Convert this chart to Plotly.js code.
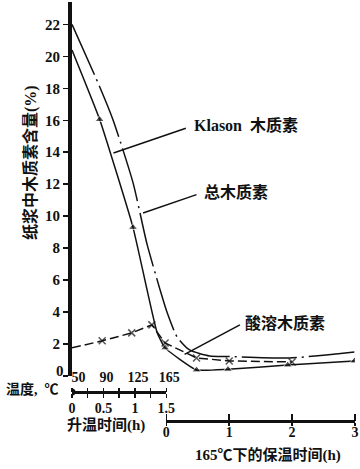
<!DOCTYPE html>
<html>
<head>
<meta charset="utf-8">
<script src="https://cdn.plot.ly/plotly-3.0.1.min.js"></script>
<style>html,body{margin:0;padding:0;background:#fff}#chart{width:360px;height:469px}</style>
</head>
<body>
<div id="chart"></div>
<script>
// ---- data (x = total elapsed time in h: heating 0-1.5, then 1.5 + hold time) ----
const yTicks = [0,2,4,6,8,10,12,14,16,18,20,22];
const heatTickVals = [0,0.25,0.5,0.75,1,1.25,1.5];
const heatTickText = ['0','','0.5','','1','','1.5'];
const tempTickText = ['\u200250','','90','','125','','165'];
const holdTickVals = [0,1,2,3];
const holdTickText = ['0','1','2','3'];

const klasonT = [0,0.44,0.97,1.35,1.48,1.98,2.48,3.43,4.49];
const klasonV = [20.4,16.05,9.3,2.76,1.76,0.38,0.42,0.69,0.94];
const klasonMarked = [false,true,true,false,true,true,true,true,true];

const totalT = [0,0.44,0.65,0.97,1.19,1.40,1.51,1.67,1.87,2.19,2.48,3.46,4.49];
const totalV = [22.0,18.1,16.05,12.1,8.3,5.4,4.0,2.45,1.63,1.25,1.22,1.13,1.5];

const acidT = [0,0.48,0.95,1.27,1.48,1.98,2.5,3.5];
const acidV = [1.76,2.2,2.7,3.2,2.07,1.13,0.94,0.88];
const acidMarked = [false,true,true,true,true,true,true,true];

const labelKlason = '<span style="font-size:16px">Klason</span>\u00a0\u00a0木质素';
const labelTotal = '总木质素';
const labelAcid = '酸溶木质素';
const yTitle = '纸浆中木质素含量(%)';
const tempTitle = '温度,\u00a0\u00a0℃';
const heatTitle = '升温时间(h)';
const holdTitle = '165℃下的保温时间(h)';

// ---- layout geometry ----
const W = 360, H = 469;
const M = {l:72, r:5, t:2, b:47};
const plotH = H - M.t - M.b;           // 420
const yBottomPx = 376;                  // pixel row of y = 0
const heatAxisPx = 392;                 // pixel row of heating axis
const holdAxisPx = 421;                 // pixel row of hold axis
const py = px => (H - M.b - px) / plotH;
const pxX = px => (px - M.l) / (W - M.l - M.r);
const yDomLo = py(yBottomPx);
const heatPos = py(heatAxisPx);
const holdPos = py(holdAxisPx);
const splitFrac = 1.5 / 4.5;

const numFont = {family:'"Liberation Serif", "Noto Sans CJK SC"', size:14, color:'#111', weight:'bold'};
const yNumFont = {family:'"Liberation Serif", "Noto Sans CJK SC"', size:15, color:'#111', weight:'bold'};
const cjkFont = {family:'"Liberation Serif", "Noto Sans CJK SC"', size:16, color:'#111', weight:'bold'};
const axFont = {family:'"Liberation Serif", "Noto Sans CJK SC"', size:15, color:'#111', weight:'bold'};

const traces = [
  { x: totalT, y: totalV, xaxis:'x', yaxis:'y', mode:'lines',
    line:{color:'#111', width:1.5, dash:'55px,5px,2px,5px', shape:'spline', smoothing:0.6},
    hoverinfo:'skip', showlegend:false },
  { x: klasonT, y: klasonV, xaxis:'x', yaxis:'y', mode:'lines+markers',
    line:{color:'#111', width:1.5, shape:'spline', smoothing:0.4},
    marker:{symbol:'triangle-up', color:'#111', size:klasonMarked.map(m => m ? 8 : 0)},
    hoverinfo:'skip', showlegend:false },
  { x: acidT, y: acidV, xaxis:'x', yaxis:'y', mode:'lines+markers',
    line:{color:'#111', width:1.5, dash:'9px,4px'},
    marker:{symbol:'x-thin', color:'#111', size:acidMarked.map(m => m ? 7 : 0), line:{color:'#111', width:1.5}},
    hoverinfo:'skip', showlegend:false },
  // carriers so the auxiliary time axes are drawn
  { x: [0,1.5], y: [null,null], xaxis:'x2', yaxis:'y', mode:'lines', hoverinfo:'skip', showlegend:false },
  { x: [0,1.5], y: [null,null], xaxis:'x3', yaxis:'y', mode:'lines', hoverinfo:'skip', showlegend:false },
  { x: [0,3], y: [null,null], xaxis:'x4', yaxis:'y', mode:'lines', hoverinfo:'skip', showlegend:false },
  { x: [0,3], y: [null,null], xaxis:'x5', yaxis:'y', mode:'lines', hoverinfo:'skip', showlegend:false }
];

const hidden = {showline:false, showticklabels:false, ticks:'', showgrid:false, zeroline:false, fixedrange:true};

const layout = {
  width: W, height: H,
  margin: M,
  paper_bgcolor:'#fff', plot_bgcolor:'rgba(0,0,0,0)',
  showlegend:false,
  xaxis: Object.assign({domain:[0,1], range:[0,4.5], anchor:'y'}, hidden),
  yaxis: { domain:[yDomLo,1], range:[0,23.4], anchor:'x',
    showline:true, linewidth:4, linecolor:'#111',
    ticks:'outside', ticklen:5, tickwidth:1.5, tickcolor:'#111',
    tickvals:yTicks, ticktext:yTicks.map(v => v === 0 ? '' : String(v)),
    tickfont:yNumFont, showgrid:false, zeroline:false, fixedrange:true },
  xaxis2: { domain:[0,splitFrac], range:[0,1.5], anchor:'free', position:heatPos, side:'bottom',
    showline:true, linewidth:3, linecolor:'#111',
    ticks:'outside', ticklen:4, tickwidth:1.5, tickcolor:'#111',
    tickvals:heatTickVals, ticktext:heatTickText, tickfont:numFont, ticklabelstandoff:-2,
    showgrid:false, zeroline:false, fixedrange:true },
  xaxis3: { domain:[0,splitFrac], range:[0,1.5], anchor:'free', position:heatPos, side:'top',
    showline:false, ticks:'outside', ticklen:4, tickwidth:1.5, tickcolor:'#111',
    tickvals:heatTickVals, ticktext:tempTickText, tickfont:numFont, ticklabelshift:3,
    showgrid:false, zeroline:false, fixedrange:true },
  xaxis4: { domain:[splitFrac,1], range:[0,3], anchor:'free', position:holdPos, side:'bottom',
    showline:true, linewidth:2.5, linecolor:'#111',
    ticks:'outside', ticklen:3, tickwidth:1.5, tickcolor:'#111',
    tickvals:holdTickVals, ticktext:holdTickText, tickfont:numFont, ticklabelstandoff:-5,
    showgrid:false, zeroline:false, fixedrange:true },
  xaxis5: { domain:[splitFrac,1], range:[0,3], anchor:'free', position:holdPos, side:'top',
    showline:false, ticks:'outside', ticklen:7, tickwidth:1.5, tickcolor:'#111',
    tickvals:holdTickVals, showticklabels:false,
    showgrid:false, zeroline:false, fixedrange:true },
  shapes: [
    { type:'circle', xref:'x2', xsizemode:'pixel', xanchor:0, x0:-3.5, x1:3.5,
      yref:'paper', ysizemode:'pixel', yanchor:heatPos, y0:-3.5, y1:3.5,
      fillcolor:'#111', line:{width:0} },
    // leader lines
    { type:'line', xref:'x', yref:'y', x0:1.81, y0:15.5, x1:0.66, y1:13.95, line:{color:'#111', width:1.5} },
    { type:'line', xref:'x', yref:'y', x0:1.98, y0:11.35, x1:1.13, y1:10.2, line:{color:'#111', width:1.5} },
    { type:'line', xref:'x', yref:'y', x0:2.67, y0:3.2, x1:1.79, y1:1.35, line:{color:'#111', width:1.5} }
  ],
  annotations: [
    { text:String(yTicks[0]), xref:'paper', yref:'y', x:pxX(66), y:yTicks[0], yshift:5, xanchor:'right', yanchor:'middle',
      showarrow:false, font:yNumFont },
    { text:labelKlason, xref:'x', yref:'y', x:1.91, y:15.7, xanchor:'left', yanchor:'middle', showarrow:false, font:cjkFont },
    { text:labelTotal, xref:'x', yref:'y', x:2.07, y:11.5, xanchor:'left', yanchor:'middle', showarrow:false, font:cjkFont },
    { text:labelAcid, xref:'x', yref:'y', x:2.72, y:3.3, xanchor:'left', yanchor:'middle', showarrow:false, font:cjkFont },
    { text:yTitle, xref:'paper', yref:'paper', x:pxX(30), y:py(163), xanchor:'center', yanchor:'middle',
      textangle:-90, showarrow:false, font:cjkFont },
    { text:tempTitle, xref:'paper', yref:'paper', x:pxX(61), y:py(389), xanchor:'right', yanchor:'middle',
      showarrow:false, font:Object.assign({}, axFont, {size:14}) },
    { text:heatTitle, xref:'paper', yref:'paper', x:pxX(106), y:py(425), xanchor:'center', yanchor:'middle',
      showarrow:false, font:axFont },
    { text:holdTitle, xref:'paper', yref:'paper', x:pxX(268), y:py(455), xanchor:'center', yanchor:'middle',
      showarrow:false, font:axFont }
  ]
};

Plotly.newPlot('chart', traces, layout, {displayModeBar:false, staticPlot:true});
</script>
</body>
</html>
